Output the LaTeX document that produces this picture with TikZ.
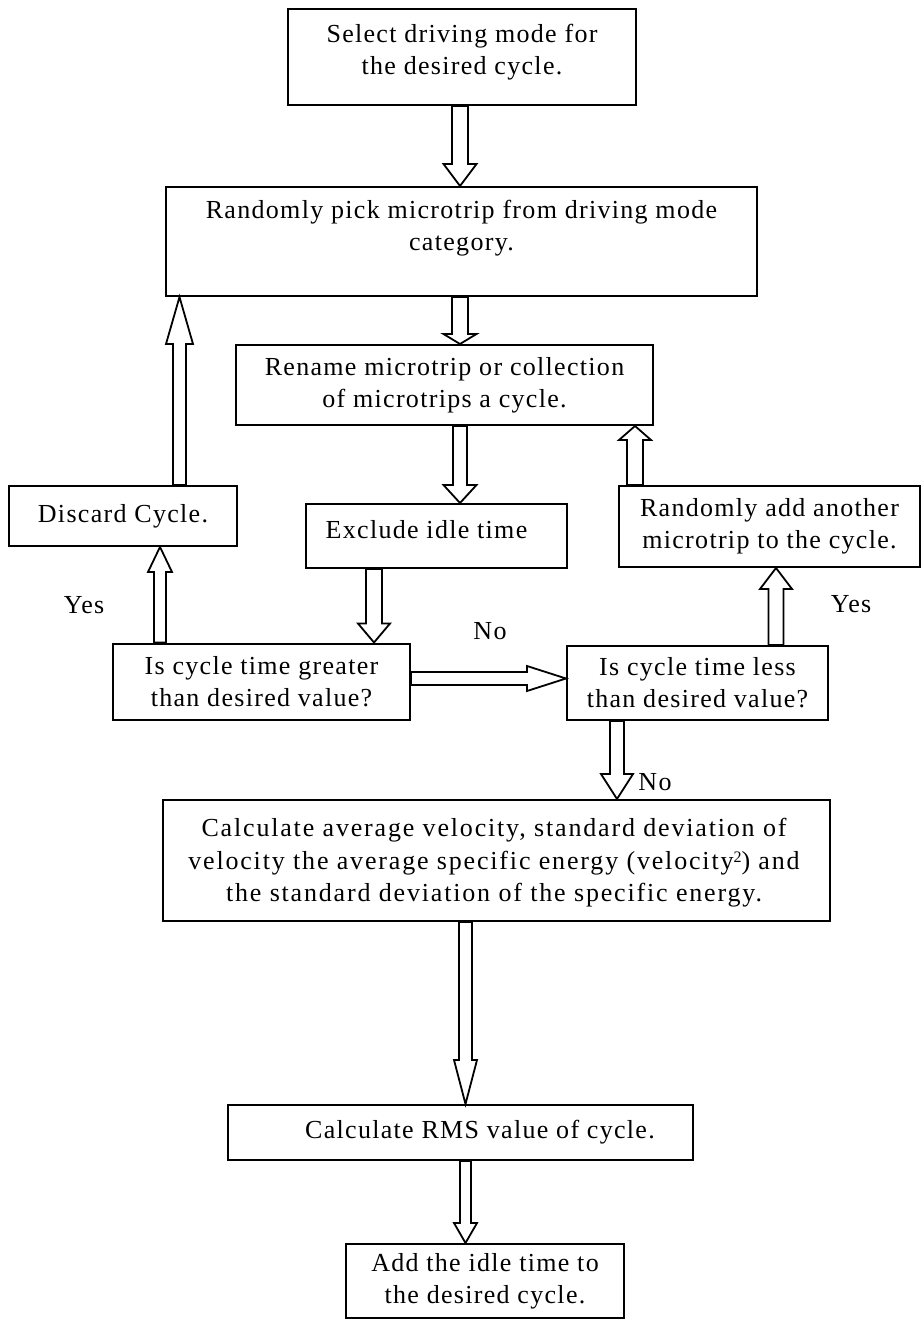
\documentclass[tikz,border=0pt]{standalone}
\usepackage{fontspec}
\setmainfont{Liberation Serif}[LetterSpace=5]
\usetikzlibrary{calc}
\newcommand\blkv[6]{%
  \draw[blk] let \p0=(#1,0), \p1=(#2), \p2=(#3), \n1={sign(\y1-\y2)} in
    (\x0-#4*0.5pt,\y1) -- (\x0-#4*0.5pt,\y2+\n1*#6*0.5pt) -- (\x0-#5*0.5pt,\y2+\n1*#6*0.5pt)
    -- (\x0,\y2) -- (\x0+#5*0.5pt,\y2+\n1*#6*0.5pt) -- (\x0+#4*0.5pt,\y2+\n1*#6*0.5pt)
    -- (\x0+#4*0.5pt,\y1) -- cycle;}
\newcommand\blkh[6]{%
  \draw[blk] let \p0=(0,#1), \p1=(#2), \p2=(#3), \n1={sign(\x1-\x2)} in
    (\x1,\y0+#4*0.5pt) -- (\x2+\n1*#6*0.5pt,\y0+#4*0.5pt) -- (\x2+\n1*#6*0.5pt,\y0+#5*0.5pt)
    -- (\x2,\y0) -- (\x2+\n1*#6*0.5pt,\y0-#5*0.5pt) -- (\x2+\n1*#6*0.5pt,\y0-#4*0.5pt)
    -- (\x1,\y0-#4*0.5pt) -- cycle;}
\newcommand\supertwo{\raisebox{0.55ex}{\fontsize{8}{8}\selectfont 2}}
\begin{document}
\begin{tikzpicture}[x=0.5pt,y=-0.5pt,
  txt/.style={font=\fontsize{13}{16}\selectfont, align=center, inner sep=0pt},
  box/.style={draw, line width=1pt, rectangle, inner sep=0pt, txt},
  blk/.style={draw, line width=0.9pt, fill=white, line join=miter},
  lbl/.style={txt}]
\useasboundingbox (0,0) rectangle (921,1320);
% boxes
\node[box, minimum width=348*0.5pt, minimum height=96*0.5pt] (select) at (462,57) {};
\node[txt] (selecttext) at (462,52) {Select driving mode for\\the desired cycle.};
\node[box, minimum width=591*0.5pt, minimum height=109*0.5pt] (pick) at (461.5,241.5) {};
\node[txt] (picktext) at (461.5,228) {Randomly pick microtrip from driving mode\\category.};
\node[box, minimum width=417*0.5pt, minimum height=80*0.5pt] (rename) at (444.5,385)
  {Rename microtrip or collection\\of microtrips a cycle.};
\node[box, minimum width=228*0.5pt, minimum height=60*0.5pt] (discard) at (123,516)
  {Discard Cycle.};
\node[box, minimum width=261*0.5pt, minimum height=64*0.5pt] (exclude) at (436.5,536) {};
\node[txt] (excludetext) at (426.5,530) {Exclude idle time};
\node[box, minimum width=301*0.5pt, minimum height=81*0.5pt] (random) at (769.5,526.5)
  {Randomly add another\\microtrip to the cycle.};
\node[box, minimum width=297*0.5pt, minimum height=76*0.5pt] (greater) at (261.5,681.5)
  {Is cycle time greater\\than desired value?};
\node[box, minimum width=261*0.5pt, minimum height=74*0.5pt] (less) at (697.5,683)
  {Is cycle time less\\than desired value?};
\node[box, minimum width=667*0.5pt, minimum height=121*0.5pt] (calc) at (496.5,860.5) {};
\node[txt, font=\fontsize{13}{16.3}\selectfont\addfontfeature{LetterSpace=7}] (calctext) at (494,863)
  {Calculate average velocity, standard deviation of\\velocity the average specific energy (velocity\supertwo) and\\the standard deviation of the specific energy.};
\node[box, minimum width=465*0.5pt, minimum height=55*0.5pt] (rms) at (460.5,1132.5) {};
\node[txt] (rmstext) at (480,1132.5) {Calculate RMS value of cycle.};
\node[box, minimum width=278*0.5pt, minimum height=74*0.5pt] (add) at (485,1281)
  {Add the idle time to\\the desired cycle.};
% labels
\node[lbl] (yes1) at (84,605) {Yes};
\node[lbl] (yes2) at (851,604) {Yes};
\node[lbl] (no1) at (490,631) {No};
\node[lbl] (no2) at (655,782) {No};
% block arrows
\blkv{460}{select.south}{pick.north}{8}{16.5}{22}
\blkv{460}{pick.south}{rename.north}{8}{16.5}{10}
\blkv{179.5}{discard.north}{pick.south}{6.5}{13.5}{47}
\blkv{160}{greater.north}{discard.south}{6}{12}{25}
\blkv{460}{rename.south}{exclude.north}{7}{16.5}{18}
\blkv{374}{exclude.south}{greater.north}{8}{16}{19}
\blkh{678.5}{greater.east}{less.west}{6.5}{12.5}{39}
\blkv{635}{random.north}{rename.south}{8}{16}{14}
\blkv{776}{less.north}{random.south}{7.5}{16}{21}
\blkv{617}{less.south}{calc.north}{7}{16}{25}
\blkv{465.5}{calc.south}{rms.north}{6.5}{11.5}{44}
\blkv{465.5}{rms.south}{add.north}{5.5}{11.5}{20}
\end{tikzpicture}
\end{document}
